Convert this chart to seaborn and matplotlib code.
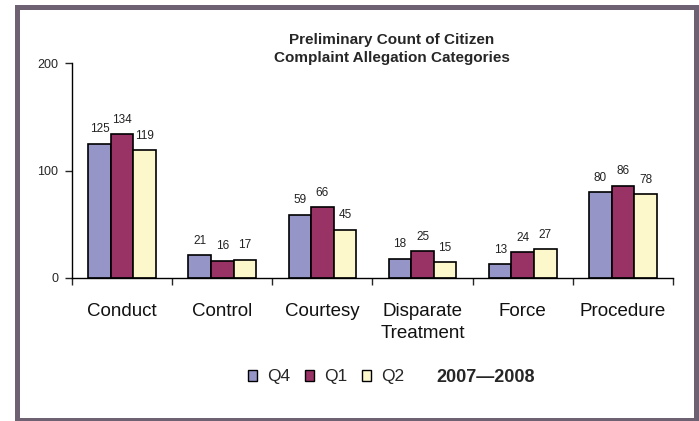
import pandas as pd
import matplotlib.pyplot as plt
import matplotlib.patches as mpatches
import seaborn as sns

categories = ['Conduct', 'Control', 'Courtesy', 'Disparate\nTreatment', 'Force', 'Procedure']
quarters = ['Q4', 'Q1', 'Q2']
q4_counts = [125, 21, 59, 18, 13, 80]
q1_counts = [134, 16, 66, 25, 24, 86]
q2_counts = [119, 17, 45, 15, 27, 78]
bar_colors = ['#9595c8', '#993366', '#fcf8cc']

df = pd.DataFrame({
    'Category': categories * 3,
    'Quarter': ['Q4'] * 6 + ['Q1'] * 6 + ['Q2'] * 6,
    'Count': q4_counts + q1_counts + q2_counts,
})

sns.set_style('white')
plt.rcParams['font.family'] = ['Liberation Sans', 'DejaVu Sans']

fig = plt.figure(figsize=(6.99, 4.21), dpi=100)
ax = fig.add_axes([72 / 699, 1 - 278 / 421, (673 - 72) / 699, (278 - 63) / 421])

sns.barplot(data=df, x='Category', y='Count', hue='Quarter', hue_order=quarters,
            palette=bar_colors, width=0.675, gap=0, edgecolor='black', linewidth=1.2,
            saturation=1, legend=False, ax=ax)

for cont in ax.containers:
    ax.bar_label(cont, padding=6, fontsize=8.5, color='#222222')

ax.set_ylim(0, 200)
ax.set_xlim(-0.5, 5.5)
ax.set_yticks([0, 100, 200])
ax.set_ylabel('')
ax.set_xlabel('')
ax.set_xticks(range(6))
ax.set_xticklabels(categories, fontsize=13.5, linespacing=1.4)
ax.set_xticks([i - 0.5 for i in range(7)], minor=True)
ax.tick_params(axis='x', which='major', length=0, pad=18, labelcolor='#111111')
ax.tick_params(axis='x', which='minor', length=5, width=1, direction='out', bottom=True)
ax.tick_params(axis='y', length=5, width=1, direction='out', left=True, labelsize=9, pad=5)
for s in ['top', 'right']:
    ax.spines[s].set_visible(False)
for s in ['left', 'bottom']:
    ax.spines[s].set_color('black')
    ax.spines[s].set_linewidth(1)

fig.text(392 / 699, 1 - 40 / 421, 'Preliminary Count of Citizen', ha='center', va='center',
         fontsize=11, fontweight='bold')
fig.text(392 / 699, 1 - 58 / 421, 'Complaint Allegation Categories', ha='center', va='center',
         fontsize=11, fontweight='bold')

handles = [mpatches.Patch(facecolor=c, edgecolor='black', linewidth=1) for c in bar_colors]
fig.legend(handles, quarters, loc='center', bbox_to_anchor=(326 / 699, 1 - 377 / 421), ncol=3,
           frameon=False, fontsize=12.5, handlelength=0.55, handleheight=0.55,
           handletextpad=0.55, columnspacing=0.85)
fig.text(486 / 699, 1 - 377 / 421, '2007\u20142008', ha='center', va='center',
         fontsize=13, fontweight='bold')

border = mpatches.Rectangle((16.5 / 699, 1 - 420 / 421), (695.5 - 16.5) / 699, (420 - 6.5) / 421,
                            transform=fig.transFigure, fill=False, edgecolor='#6e6272',
                            linewidth=3.6)
fig.patches.append(border)

fig.savefig('out.png', dpi=100)
